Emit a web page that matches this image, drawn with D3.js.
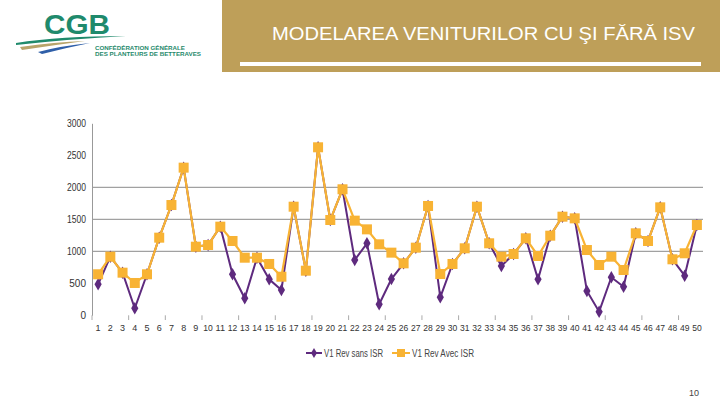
<!DOCTYPE html>
<html><head><meta charset="utf-8">
<script src="https://cdn.jsdelivr.net/npm/d3@7"></script>
<style>html,body{margin:0;padding:0;background:#fff;}svg{display:block;}</style>
</head><body>
<svg id="c" width="720" height="405"></svg>
<script>
const categories = d3.range(1, 51).map(String);
const sansISR = [484,916,666,109,641,1213,1723,2307,1072,1098,1385,641,266,900,562,395,1697,697,2625,1489,1969,864,1125,172,567,812,1057,1708,281,802,1047,1697,1125,770,958,1203,562,1244,1541,1515,380,57,594,447,1281,1161,1687,875,619,1411];
const avecISR = [641,916,666,505,641,1213,1723,2307,1072,1098,1385,1161,900,900,802,603,1697,697,2625,1489,1969,1479,1343,1109,979,812,1057,1708,645,802,1047,1697,1125,916,958,1203,927,1244,1541,1515,1020,786,916,708,1281,1161,1687,875,969,1411];
const yTicks = [0,500,1000,1500,2000,2500,3000];
const gridValues = [1000,1500,2000];
const seriesNames = ["V1 Rev sans ISR","V1 Rev Avec ISR"];

const svg = d3.select("#c");
const font = "Liberation Sans, Arial, sans-serif";

// Header
svg.append("rect").attr("x",222).attr("y",0).attr("width",498).attr("height",72).attr("fill","#BE9F59");
svg.append("rect").attr("x",240).attr("y",62).attr("width",461).attr("height",4).attr("fill","#fff");
svg.append("text").attr("x",272).attr("y",40).attr("fill","#fff").attr("font-family",font)
  .attr("font-size",18.5).attr("textLength",423).attr("lengthAdjust","spacingAndGlyphs")
  .text("MODELAREA VENITURILOR CU ŞI FĂRĂ ISV");

// Logo
const logo = svg.append("g");
logo.append("text").attr("x",44).attr("y",34).attr("fill","#1F8A6C").attr("font-family",font)
  .attr("font-weight","bold").attr("font-size",27).attr("textLength",66).attr("lengthAdjust","spacingAndGlyphs").text("CGB");
logo.append("path").attr("d","M16 43 Q60 36 126 36 Q70 39 16 45 Z").attr("fill","#1F8A6C");
logo.append("path").attr("d","M20 47 Q55 42 85 41 Q55 45 22 50 Z").attr("fill","#B8A46A");
logo.append("path").attr("d","M38 52 Q60 46 90 43 Q65 48 42 54 Z").attr("fill","#2F5FA8");
logo.append("text").attr("x",95).attr("y",50).attr("fill","#1F8A6C").attr("font-family",font).attr("font-weight","bold")
  .attr("font-size",5.5).attr("textLength",90).attr("lengthAdjust","spacingAndGlyphs").text("CONFÉDÉRATION GÉNÉRALE");
logo.append("text").attr("x",95).attr("y",56).attr("fill","#1F8A6C").attr("font-family",font).attr("font-weight","bold")
  .attr("font-size",5.5).attr("textLength",106).attr("lengthAdjust","spacingAndGlyphs").text("DES PLANTEURS DE BETTERAVES");

// Chart
const x = d3.scaleBand().domain(categories).range([92,703]);
const y = d3.scaleLinear().domain([0,3000]).range([315.3,123.3]);
const cx = d => x(d) + x.bandwidth()/2;

svg.append("g").selectAll("line").data(gridValues).join("line")
  .attr("x1",92).attr("x2",703).attr("y1",d=>y(d)).attr("y2",d=>y(d))
  .attr("stroke","#8a8a8a").attr("stroke-width",1);

const yAxis = svg.append("g").attr("transform","translate(92,0)")
  .call(d3.axisLeft(y).tickValues(yTicks).tickFormat(d3.format("d")).tickSize(0).tickPadding(6));
yAxis.select(".domain").attr("stroke","#999");
yAxis.selectAll("text").attr("font-family",font).attr("font-size",10).attr("fill","#333")
  .each(function(d){ if (String(d).length > 3) d3.select(this).attr("textLength",19).attr("lengthAdjust","spacingAndGlyphs"); });

const xAxis = svg.append("g").attr("transform","translate(0,315.3)")
  .call(d3.axisBottom(x).tickSize(0).tickPadding(9));
xAxis.select(".domain").remove();
xAxis.selectAll("text").attr("font-family",font).attr("font-size",9).attr("fill","#333")
  .each(function(d){ if (d.length > 1) d3.select(this).attr("textLength",9.5).attr("lengthAdjust","spacingAndGlyphs"); });
svg.append("g").selectAll("line").data(categories.filter((d,i)=>i%3===0)).join("line")
  .attr("x1",d=>x(d)).attr("x2",d=>x(d)).attr("y1",315.3).attr("y2",320).attr("stroke","#aaa");

const line = d3.line().x((d,i)=>cx(categories[i])).y(d=>y(d));
const purple = "#5E2A7E", orange = "#F8B334";

svg.append("path").datum(sansISR).attr("d",line).attr("fill","none").attr("stroke",purple).attr("stroke-width",2);
svg.append("g").selectAll("path").data(sansISR).join("path")
  .attr("d",d3.symbol(d3.symbolDiamond,45))
  .attr("transform",(d,i)=>`translate(${cx(categories[i])},${y(d)})`).attr("fill",purple);
svg.append("path").datum(avecISR).attr("d",line).attr("fill","none").attr("stroke",orange).attr("stroke-width",2.2);
svg.append("g").selectAll("rect").data(avecISR).join("rect")
  .attr("x",(d,i)=>cx(categories[i])-5).attr("y",d=>y(d)-5).attr("width",10).attr("height",10).attr("fill",orange);

// Legend
const lg = svg.append("g");
lg.append("line").attr("x1",306).attr("x2",322).attr("y1",353).attr("y2",353).attr("stroke",purple).attr("stroke-width",2);
lg.append("path").attr("d",d3.symbol(d3.symbolDiamond,30)).attr("transform","translate(314,353)").attr("fill",purple);
lg.append("text").attr("x",324).attr("y",357).attr("font-family",font).attr("font-size",10).attr("fill","#444")
  .attr("textLength",59).attr("lengthAdjust","spacingAndGlyphs").text(seriesNames[0]);
lg.append("line").attr("x1",392).attr("x2",410).attr("y1",353).attr("y2",353).attr("stroke",orange).attr("stroke-width",2);
lg.append("rect").attr("x",397).attr("y",349).attr("width",8).attr("height",8).attr("fill",orange);
lg.append("text").attr("x",412).attr("y",357).attr("font-family",font).attr("font-size",10).attr("fill","#444")
  .attr("textLength",62).attr("lengthAdjust","spacingAndGlyphs").text(seriesNames[1]);

svg.append("text").attr("x",694).attr("y",396).attr("text-anchor","middle").attr("font-family",font)
  .attr("font-size",9).attr("fill","#444").text("10");
</script>
</body></html>
